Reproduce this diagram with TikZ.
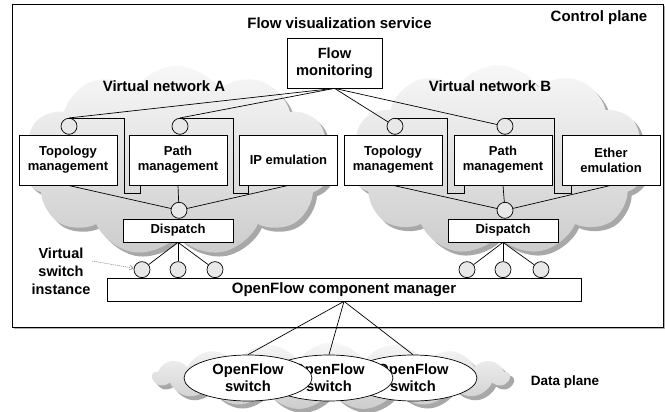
\documentclass[tikz,border=0pt]{standalone}
\usepackage{fontspec}
\setmainfont{Liberation Sans}
\usetikzlibrary{shapes.symbols,shapes.geometric,shadows,calc,arrows.meta}

\begin{document}
\begin{tikzpicture}[x=1pt,y=-1pt,
  box/.style={draw, fill=white, line width=0.7pt, align=center, inner sep=0pt,
    font=\fontsize{13}{15}\selectfont\bfseries, minimum width=98pt, minimum height=50pt},
  dispbox/.style={box, minimum width=110pt, minimum height=23pt},
  port/.style={circle, draw, fill=gray!18, line width=0.7pt, minimum size=16pt, inner sep=0pt},
  wire/.style={line width=0.7pt},
  lbl/.style={font=\fontsize{15}{18}\selectfont\bfseries, inner sep=0pt, anchor=base},
  switchnode/.style={ellipse, draw, fill=white, line width=0.7pt, align=center, inner sep=0pt,
    minimum width=128pt, minimum height=46pt, font=\fontsize{14.7}{17}\selectfont\bfseries},
  vcloud/.style={cloud, cloud ignores aspect, draw=none, inner sep=0pt,
    top color=gray!6, bottom color=gray!40,
    drop shadow={shadow xshift=4pt, shadow yshift=-4pt, fill=gray!68, opacity=1}},
]
\useasboundingbox (0,0) rectangle (665,412);

% control plane frame
\node[draw, fill=white, line width=0.8pt, minimum width=651pt, minimum height=323pt, inner sep=0pt,
  drop shadow={shadow xshift=2pt, shadow yshift=-2pt, fill=gray!60, opacity=1}] (ctrl) at (337.5,165.5) {};

% virtual network clouds
\node[vcloud, cloud puffs=11, cloud puff arc=115, minimum width=310pt, minimum height=190pt] (cloudA) at (177,161) {};
\node[vcloud, cloud puffs=11, cloud puff arc=115, minimum width=297pt, minimum height=190pt] (cloudB) at (498,160) {};
% data plane cloud
\node[vcloud, cloud puffs=17, cloud puff arc=120, minimum width=357pt, minimum height=67pt] (cloudD) at (331,376) {};

% labels
\node[lbl] (title) at (339.5,29) {Flow visualization service};
\node[lbl] (cplane) at (599,22) {Control plane};
\node[lbl, font=\fontsize{14.9}{18}\selectfont\bfseries] (vnA) at (164,92) {Virtual network A};
\node[lbl, font=\fontsize{14.9}{18}\selectfont\bfseries] (vnB) at (490,92) {Virtual network B};
\node[lbl, font=\fontsize{13.5}{16}\selectfont\bfseries] (dplane) at (565,385) {Data plane};
\node[align=center, inner sep=0pt, font=\fontsize{14.5}{18}\selectfont\bfseries] (vsi) at (61,271) {Virtual\\switch\\instance};

% flow monitoring
\node[box, minimum width=95pt, minimum height=50pt, font=\fontsize{14.7}{17}\selectfont\bfseries] (flow) at (334.5,63) {Flow\\monitoring};

% function boxes
\node[box] (topoA) at (68,160) {Topology\\management};
\node[box] (pathA) at (178,160) {Path\\management};
\node[box] (ipA) at (288.5,160) {IP emulation};
\node[box] (topoB) at (393,160) {Topology\\management};
\node[box] (pathB) at (503,160) {Path\\management};
\node[box] (ethB) at (611,160) {Ether\\emulation};

% ports on top of the management boxes
\node[port, anchor=south] (cTA) at ($(topoA.north)+(1,0)$) {};
\node[port, anchor=south] (cPA) at ($(pathA.north)+(2,0)$) {};
\node[port, anchor=south] (cTB) at ($(topoB.north)+(2,0)$) {};
\node[port, anchor=south] (cPB) at ($(pathB.north)+(2,0)$) {};

% dispatchers
\node[dispbox] (dispA) at (178,230.5) {Dispatch};
\node[dispbox] (dispB) at (503,230.5) {Dispatch};
\node[port, anchor=south] (dcA) at ($(dispA.north)+(1,0)$) {};
\node[port, anchor=south] (dcB) at ($(dispB.north)+(2,0)$) {};

% component manager and switch instances
\node[box, minimum width=474pt, minimum height=23pt, font=\fontsize{15}{18}\selectfont\bfseries] (cm) at (344,289.5) {OpenFlow component manager};
\node[port, anchor=south] (sA1) at (142,278) {};
\node[port, anchor=south] (sA2) at (178,278) {};
\node[port, anchor=south] (sA3) at (215,278) {};
\node[port, anchor=south] (sB1) at (467,278) {};
\node[port, anchor=south] (sB2) at (503,278) {};
\node[port, anchor=south] (sB3) at (541,278) {};

% OpenFlow switches (rightmost first so the left ones overlap it)
\node[switchnode] (sw3) at (413,378) {OpenFlow\\switch};
\node[switchnode] (sw2) at (329,378) {OpenFlow\\switch};
\node[switchnode] (sw1) at (248,378) {OpenFlow\\switch};

% flow monitoring links
\draw[wire] (flow.south) -- (cTA.north);
\draw[wire] (flow.south) -- (cPA.north);
\draw[wire] (flow.south) -- (cTB);
\draw[wire] (flow.south) -- (cPB);

% brackets from the ports to the neighbouring boxes
\draw[wire] (cTA.north) -| ($(topoA.south east)+(7,8)$) -| ($(pathA.south west)+(12,0)$);
\draw[wire] (cPA.north) -| ($(pathA.south east)+(6,8)$) -| ($(ipA.south west)+(9,0)$);
\draw[wire] (cTB.north) -| ($(topoB.south east)+(5,8)$) -| ($(pathB.south west)+(11,0)$);
\draw[wire] (cPB.north) -| ($(pathB.south east)+(2,8)$) -| ($(ethB.south west)+(10,0)$);

% boxes to dispatchers
\foreach \b in {topoA,pathA,ipA} \draw[wire] (\b.south) -- (dcA);
\foreach \b in {topoB,pathB,ethB} \draw[wire] (\b.south) -- (dcB);

% dispatchers to switch instances
\foreach \s in {sA1,sA2,sA3} \draw[wire] (dispA.south) -- (\s);
\foreach \s in {sB1,sB2,sB3} \draw[wire] (dispB.south) -- (\s);

% component manager to switches
\foreach \s in {sw1,sw2,sw3} \draw[wire] (cm.south) -- (\s.north);

% pointer to a switch instance
\coordinate (vsiTail) at (92,261);
\draw[gray, line width=0.5pt, dash pattern=on 1.2pt off 0.9pt, -{Straight Barb[length=4pt,width=5pt]}] (vsiTail) -- (sA1);
\end{tikzpicture}
\end{document}
